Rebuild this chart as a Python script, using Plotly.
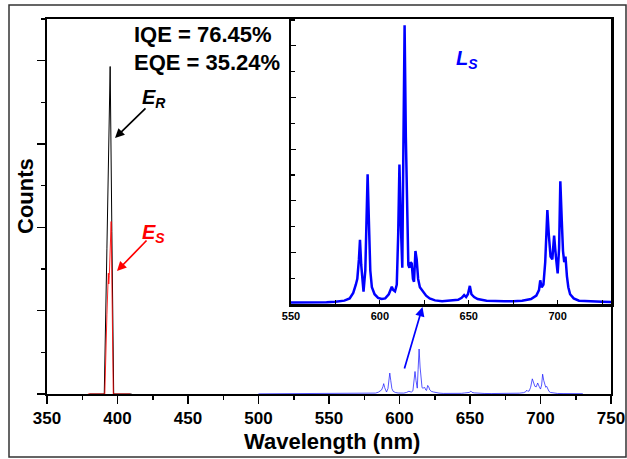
import plotly.graph_objects as go

# ---- data ----
# reference (E_R) excitation peak, black
ref_wl = [380, 390.6, 392.5, 394.8, 396.0, 397.3, 410]
ref_counts = [0, 0, 1.75, 3.93, 1.95, 0, 0]

# sample (E_S) excitation peak, red
smp_wl = [379, 391.0, 392.5, 393.5, 393.8, 394.2, 395.5, 396.3, 397.0, 409]
smp_counts = [0, 0, 0.95, 1.45, 1.32, 1.42, 2.07, 1.0, 0, 0]

# sample emission (L_S), blue
em_wl = [500, 550, 560, 570, 575, 580, 583, 585, 586.5, 587.3, 588.2, 588.8, 589.5,
         590.3, 590.8, 591.8, 592.5, 593.1, 593.8, 594.6, 595.5, 597, 599, 601, 603,
         605, 606.7, 607.5, 608.5, 609.5, 610.3, 611.0, 611.7, 612.6, 613.2, 613.9,
         614.6, 615.3, 616.0, 616.6, 617.3, 617.9, 618.6, 619.2, 620.0, 620.7, 621.5,
         622.5, 624, 626, 628, 631, 635, 640, 644, 646, 647.4, 648.5, 649.5, 650.6,
         651.5, 653, 655, 660, 665, 670, 675, 680, 685, 688, 689.5, 690.2, 691, 692,
         693, 694.2, 695, 696, 697, 698, 699, 700, 700.8, 701.5, 702.3, 703, 703.7,
         704.4, 705.2, 706, 707, 709, 712, 716, 720, 725, 730]
em_counts = [0.0022, 0.0027, 0.0027, 0.0032, 0.0043, 0.0065, 0.0108, 0.0216, 0.0378,
             0.0486, 0.0864, 0.1242, 0.0756, 0.0378, 0.0238, 0.0648, 0.162, 0.2511,
             0.162, 0.0648, 0.0324, 0.0189, 0.0119, 0.0097, 0.0108, 0.0189, 0.0335,
             0.027, 0.0243, 0.0378, 0.135, 0.27, 0.162, 0.0702, 0.297, 0.54, 0.324,
             0.162, 0.0756, 0.0702, 0.081, 0.0783, 0.0486, 0.0432, 0.1026, 0.0864,
             0.0486, 0.0324, 0.0243, 0.0162, 0.0108, 0.007, 0.0054, 0.0065, 0.0081,
             0.0119, 0.0173, 0.0135, 0.0189, 0.0351, 0.0189, 0.0135, 0.0097, 0.0065,
             0.0054, 0.0054, 0.0054, 0.0065, 0.0097, 0.0162, 0.027, 0.0459, 0.0324,
             0.0378, 0.081, 0.182, 0.135, 0.0918, 0.0864, 0.1323, 0.0918, 0.0594,
             0.108, 0.2376, 0.162, 0.1026, 0.081, 0.0918, 0.054, 0.0324, 0.0189,
             0.0108, 0.0065, 0.0054, 0.0043, 0.0043, 0.0038]

main_ticks = [350, 400, 450, 500, 550, 600, 650, 700, 750]
inset_ticks = [550, 600, 650, 700]

FONT = "Liberation Sans"

fig = go.Figure()
fig.add_trace(go.Scatter(x=ref_wl, y=ref_counts, mode="lines",
                         line=dict(color="black", width=1), xaxis="x", yaxis="y"))
fig.add_trace(go.Scatter(x=smp_wl, y=smp_counts, mode="lines",
                         line=dict(color="rgba(255,0,0,0.85)", width=1), xaxis="x", yaxis="y"))
fig.add_trace(go.Scatter(x=em_wl, y=em_counts, mode="lines",
                         line=dict(color="rgba(30,30,255,0.75)", width=1), xaxis="x", yaxis="y"))
fig.add_trace(go.Scatter(x=em_wl, y=em_counts, mode="lines",
                         line=dict(color="#0000ff", width=2.5), xaxis="x2", yaxis="y2"))

# pixel -> paper helpers (reference plot area: x 46..610, y 19..394)
def px(v):
    return (v - 46) / 564.0

def py(v):
    return (394 - v) / 375.0

fig.update_layout(
    width=637, height=459,
    margin=dict(l=47, r=17, t=19, b=65),
    paper_bgcolor="white", plot_bgcolor="white",
    showlegend=False,
    font=dict(family=FONT, color="black"),
    xaxis=dict(range=[350, 750], tickvals=main_ticks, ticks="outside", ticklen=8,
               tickwidth=1.5, tickcolor="black", showline=True, linewidth=2,
               linecolor="black", mirror=True, showgrid=False, zeroline=False,
               tickfont=dict(family=FONT, size=17, weight="bold"),
               minor=dict(dtick=25, tick0=350, ticks="outside", ticklen=4,
                          tickwidth=1.5, tickcolor="black"),
               layer="below traces"),
    yaxis=dict(range=[0, 4.5], dtick=1, tick0=0, ticks="outside", ticklen=8,
               tickwidth=1.5, tickcolor="black", showticklabels=False,
               showline=True, linewidth=2, linecolor="black", mirror=True,
               showgrid=False, zeroline=False,
               minor=dict(dtick=0.5, ticks="outside", ticklen=4, tickwidth=1.5,
                          tickcolor="black")),
    xaxis2=dict(domain=[px(290), 1.0], anchor="y2", range=[550, 730],
                tickvals=inset_ticks, ticks="inside", ticklen=4, tickwidth=1.2,
                tickcolor="black", showline=True, linewidth=2.5, linecolor="black",
                mirror=True, showgrid=False, zeroline=False,
                tickfont=dict(family=FONT, size=11, weight="bold"),
                minor=dict(dtick=25, tick0=550, ticks="inside", ticklen=4,
                           tickwidth=1.2, tickcolor="black")),
    yaxis2=dict(domain=[py(304), 1.0], anchor="x2", range=[0, 0.552], dtick=0.1,
                tick0=0, ticks="inside", ticklen=5, tickwidth=1.2, tickcolor="black",
                showticklabels=False, showline=True, linewidth=2.5,
                linecolor="black", mirror=True, showgrid=False, zeroline=False,
                minor=dict(dtick=0.05, ticks="inside", ticklen=4, tickwidth=1.2,
                           tickcolor="black")),
)

ann = []
def label(text, x, y, size, color="black", xanchor="center", angle=0):
    ann.append(dict(text=text, xref="paper", yref="paper", x=px(x), y=py(y),
                    xanchor=xanchor, yanchor="middle", textangle=angle,
                    showarrow=False, font=dict(family=FONT, size=size, color=color)))

label("<b>Wavelength (nm)</b>", 331, 441, 22)
label("<b>Counts</b>", 24, 196, 22, angle=-90)
label("<b>IQE = 76.45%</b>", 131, 35, 22, xanchor="left")
label("<b>EQE = 35.24%</b>", 131, 63, 22, xanchor="left")
label("<b><i>E</i></b><sub><b><i>R</i></b></sub>", 139, 98, 20, xanchor="left")
label("<b><i>E</i></b><sub><b><i>S</i></b></sub>", 139, 233, 20, color="#ff0000", xanchor="left")
label("<b><i>L</i></b><sub><b><i>S</i></b></sub>", 453, 59, 20, color="#0000ff", xanchor="left")

def arrow(tipx, tipy, tailx, taily, color):
    ann.append(dict(text="", xref="paper", yref="paper", x=px(tipx), y=py(tipy),
                    ax=tailx - tipx, ay=taily - tipy, showarrow=True, arrowhead=2,
                    arrowsize=1.1, arrowwidth=1.7, arrowcolor=color))

arrow(114, 138, 146, 107, "black")
arrow(116, 271, 147, 239, "#ff0000")
arrow(421.5, 307, 403, 370, "#0000ff")
fig.update_layout(annotations=ann)

# outer frame
fig.add_shape(type="rect", xref="paper", yref="paper",
              x0=px(8), x1=px(625), y0=py(457), y1=py(5),
              line=dict(color="#333333", width=1.5), fillcolor="rgba(0,0,0,0)")

fig.write_html(
    "out.html",
    config={"displayModeBar": False, "staticPlot": True},
    post_script=("document.body.style.margin='0px';"
                 "document.body.style.overflow='hidden';"
                 "document.documentElement.style.overflow='hidden';"),
)
